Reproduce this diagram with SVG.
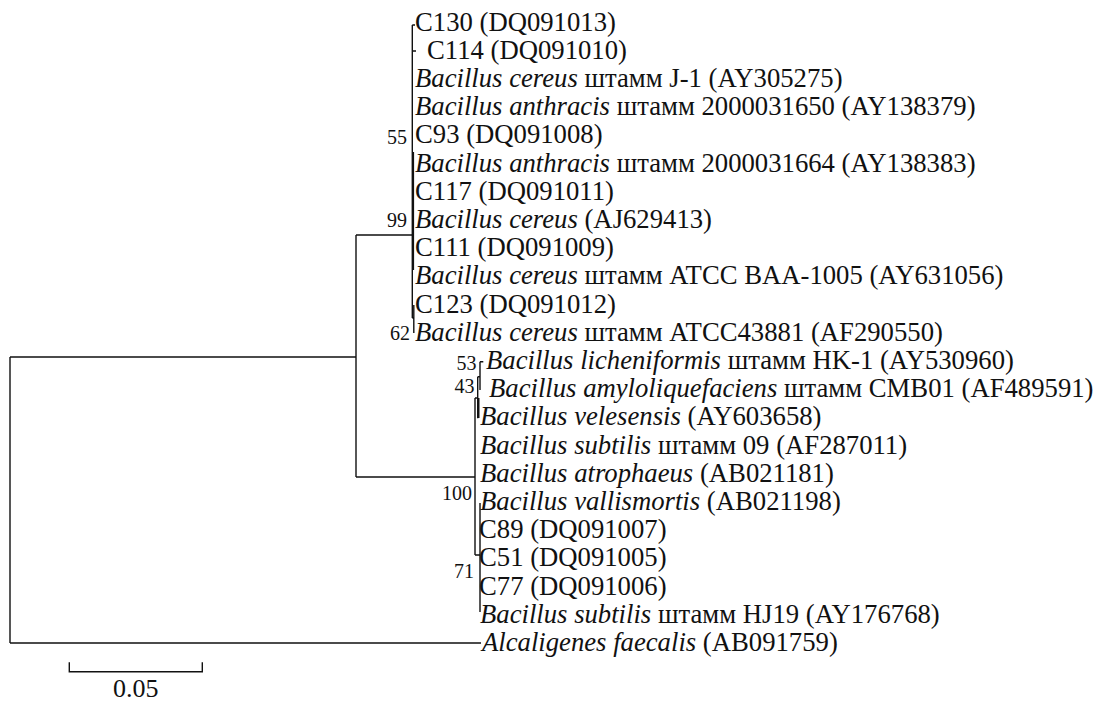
<svg xmlns="http://www.w3.org/2000/svg" width="1098" height="703" viewBox="0 0 1098 703">
<style>
.lb{font-family:"Liberation Serif","Times New Roman",serif;font-size:26.7px;fill:#111}
.bs{font-family:"Liberation Serif","Times New Roman",serif;font-size:20px;fill:#111;text-anchor:end}
.i{font-style:italic}
.br{stroke:#111;stroke-width:1.4;fill:none}
.sc{font-family:"Liberation Serif","Times New Roman",serif;font-size:26px;fill:#111;text-anchor:middle}
</style>
<rect width="1098" height="703" fill="#fff"/>
<g id="connectors" class="br">
<path d="M10,357V643M10,357H356M10,643H481M356,235V477M356,235H412M356,477H475"/>
<path d="M412.3,25V318M413.4,152V270M412.3,25H415M412.3,51H416M412.3,318H413.8M413.8,305V333"/>
<path d="M475,398V555M475,398H477.7M477.7,376.7V418.3M478.8,398V418M477.7,376.7H480M480,361.7V390M480,361.7H483.3M475,555H480M480,503V612"/>
</g>
<g id="bootstrap">
<text class="bs" x="407" y="143.5">55</text>
<text class="bs" x="407" y="227">99</text>
<text class="bs" x="410" y="340">62</text>
<text class="bs" x="476.5" y="370">53</text>
<text class="bs" x="474.5" y="393">43</text>
<text class="bs" x="472" y="500">100</text>
<text class="bs" x="474" y="578">71</text>
</g>
<g id="n0"><text class="lb" x="415" y="30.5">C130 (DQ091013)</text></g>
<g id="n1"><text class="lb" x="427" y="58.7">C114 (DQ091010)</text></g>
<g id="n2"><text class="lb" x="415" y="86.9"><tspan class="i">Bacillus cereus</tspan> штамм J-1 (AY305275)</text></g>
<g id="n3"><text class="lb" x="415" y="115.1"><tspan class="i">Bacillus anthracis</tspan> штамм 2000031650 (AY138379)</text></g>
<g id="n4"><text class="lb" x="415" y="143.3">C93 (DQ091008)</text></g>
<g id="n5"><text class="lb" x="415" y="171.5"><tspan class="i">Bacillus anthracis</tspan> штамм 2000031664 (AY138383)</text></g>
<g id="n6"><text class="lb" x="415" y="199.7">C117 (DQ091011)</text></g>
<g id="n7"><text class="lb" x="415" y="227.9"><tspan class="i">Bacillus cereus</tspan> (AJ629413)</text></g>
<g id="n8"><text class="lb" x="415" y="256.1">C111 (DQ091009)</text></g>
<g id="n9"><text class="lb" x="415" y="284.3"><tspan class="i">Bacillus cereus</tspan> штамм ATCC BAA-1005 (AY631056)</text></g>
<g id="n10"><text class="lb" x="415" y="312.5">C123 (DQ091012)</text></g>
<g id="n11"><text class="lb" x="415" y="340.7"><tspan class="i">Bacillus cereus</tspan> штамм ATCC43881 (AF290550)</text></g>
<g id="n12"><text class="lb" x="486" y="368.9"><tspan class="i">Bacillus licheniformis</tspan> штамм HK-1 (AY530960)</text></g>
<g id="n13"><text class="lb" x="489" y="397.1"><tspan class="i">Bacillus amyloliquefaciens</tspan> штамм CMB01 (AF489591)</text></g>
<g id="n14"><text class="lb" x="480" y="425.3"><tspan class="i">Bacillus velesensis</tspan> (AY603658)</text></g>
<g id="n15"><text class="lb" x="480" y="453.5"><tspan class="i">Bacillus subtilis</tspan> штамм 09 (AF287011)</text></g>
<g id="n16"><text class="lb" x="480" y="481.7"><tspan class="i">Bacillus atrophaeus</tspan> (AB021181)</text></g>
<g id="n17"><text class="lb" x="480" y="509.9"><tspan class="i">Bacillus vallismortis</tspan> (AB021198)</text></g>
<g id="n18"><text class="lb" x="479" y="538.1">C89 (DQ091007)</text></g>
<g id="n19"><text class="lb" x="479" y="566.3">C51 (DQ091005)</text></g>
<g id="n20"><text class="lb" x="479" y="594.5">C77 (DQ091006)</text></g>
<g id="n21"><text class="lb" x="480" y="622.7"><tspan class="i">Bacillus subtilis</tspan> штамм HJ19 (AY176768)</text></g>
<g id="n22"><text class="lb" x="482" y="650.9"><tspan class="i">Alcaligenes faecalis</tspan> (AB091759)</text></g>
<g id="scale">
<path class="br" d="M69.3,662.3V671.7H202.3V662.3"/>
<text class="sc" x="135.8" y="697">0.05</text>
</g>
</svg>
